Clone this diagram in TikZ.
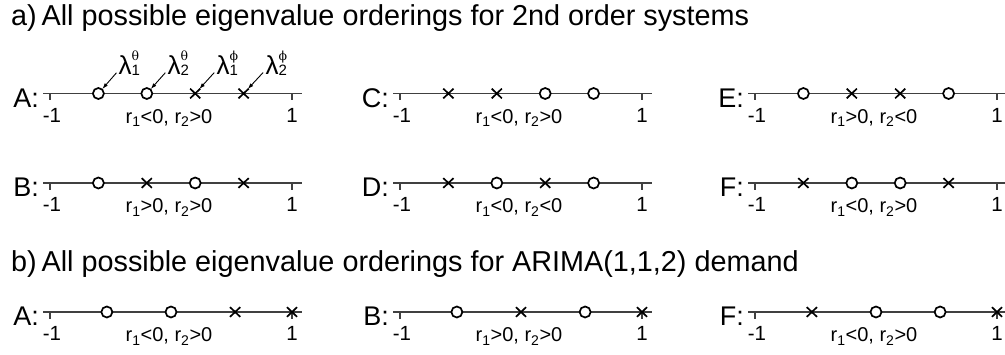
\documentclass[tikz,border=0pt]{standalone}
\usepackage{fontspec}
\setmainfont{Liberation Sans}
\newfontfamily\greeksup{DejaVu Serif}
\usetikzlibrary{arrows.meta,shapes.misc}
\tikzset{
  axis/.style={line width=1.1pt,draw=black!75},
  omark/.style={circle,draw=black,fill=white,line width=1.7pt,minimum size=11pt,inner sep=0pt},
  xmark/.style={cross out,draw=black,line width=1.7pt,minimum width=8.5pt,minimum height=8pt,inner sep=0pt},
  panellabel/.style={anchor=base east,inner sep=0pt,font=\fontsize{27}{30}\selectfont},
  ticklabel/.style={anchor=base,inner sep=0pt,font=\fontsize{20.5}{22}\selectfont},
  rlabel/.style={anchor=base,inner sep=0pt,font=\fontsize{20}{22}\selectfont},
  heading/.style={anchor=base west,inner sep=0pt,font=\fontsize{28.8}{32}\selectfont},
  lam/.style={inner sep=0pt,font=\fontsize{26}{28}\selectfont},
  lamarrow/.style={line width=0.9pt,-{Latex[length=6pt,width=4pt]},shorten <=13pt,shorten >=6pt}
}
\newcommand\lamtext[2]{λ\rlap{\raisebox{14pt}{\fontsize{12.5}{12}\selectfont\greeksup #2}}\rlap{\raisebox{-1pt}{\fontsize{15}{15}\selectfont #1}}}
\newcommand\eigpanel[6]{%
  \coordinate (#1-l) at (#2-7,#3);
  \coordinate (#1-r) at (#2+252,#3);
  \draw[axis] (#1-l) -- (#1-r);
  \coordinate (#1-t0) at (#2,#3);
  \coordinate (#1-t1) at (#2+242,#3);
  \coordinate (#1-t0e) at (#2,#3+7);
  \coordinate (#1-t1e) at (#2+242,#3+7);
  \draw[axis] (#1-t0) -- (#1-t0e);
  \draw[axis] (#1-t1) -- (#1-t1e);
  \node[panellabel] (#1-name) at (#2-11,#3+14) {#4:};
  \node[ticklabel] (#1-m1) at (#2+2,#3+29) {-1};
  \node[ticklabel] (#1-p1) at (#2+242,#3+29) {1};
  \node[rlabel] (#1-rl) at (#2+119,#3+30) {#5};
  \foreach \k/\t/\v in {#6} { \node[\t] (#1-\k) at ({#2+121+121*\v},#3) {}; }
}
\begin{document}
\begin{tikzpicture}[x=1pt,y=-1pt]
\useasboundingbox (0,0) rectangle (1005,355);
\node[heading] (ha) at (11,26) {a)\,All possible eigenvalue orderings for 2nd order systems};
\node[heading] (hb) at (11,272) {b)\,All possible eigenvalue orderings for ARIMA(1,1,2) demand};
% row 1
\eigpanel{aA}{50}{93.5}{A}{r\textsubscript{1}<0, r\textsubscript{2}>0}{1/omark/-0.6,2/omark/-0.2,3/xmark/0.2,4/xmark/0.6}
\eigpanel{aC}{400}{93.5}{C}{r\textsubscript{1}<0, r\textsubscript{2}>0}{1/xmark/-0.6,2/xmark/-0.2,3/omark/0.2,4/omark/0.6}
\eigpanel{aE}{755}{93.5}{E}{r\textsubscript{1}>0, r\textsubscript{2}<0}{1/omark/-0.6,2/xmark/-0.2,3/xmark/0.2,4/omark/0.6}
% row 2
\eigpanel{aB}{50}{183}{B}{r\textsubscript{1}>0, r\textsubscript{2}>0}{1/omark/-0.6,2/xmark/-0.2,3/omark/0.2,4/xmark/0.6}
\eigpanel{aD}{400}{183}{D}{r\textsubscript{1}<0, r\textsubscript{2}<0}{1/xmark/-0.6,2/omark/-0.2,3/xmark/0.2,4/omark/0.6}
\eigpanel{aF}{755}{183}{F}{r\textsubscript{1}<0, r\textsubscript{2}>0}{1/xmark/-0.6,2/omark/-0.2,3/omark/0.2,4/xmark/0.6}
% row 3
\eigpanel{bA}{50}{312}{A}{r\textsubscript{1}<0, r\textsubscript{2}>0}{1/omark/-0.53,2/omark/0,3/xmark/0.53,4/xmark/1}
\eigpanel{bB}{400}{312}{B}{r\textsubscript{1}>0, r\textsubscript{2}>0}{1/omark/-0.53,2/xmark/0,3/omark/0.53,4/xmark/1}
\eigpanel{bF}{755}{312}{F}{r\textsubscript{1}<0, r\textsubscript{2}>0}{1/xmark/-0.53,2/omark/0,3/omark/0.53,4/xmark/1}
% lambda labels
\node[lam] (l1) at (125,63) {\lamtext{1}{θ}};
\node[lam] (l2) at (174,63) {\lamtext{2}{θ}};
\node[lam] (l3) at (223,63) {\lamtext{1}{ϕ}};
\node[lam] (l4) at (272,63) {\lamtext{2}{ϕ}};
\draw[lamarrow] (l1.center) -- (aA-1.center);
\draw[lamarrow] (l2.center) -- (aA-2.center);
\draw[lamarrow] (l3.center) -- (aA-3.center);
\draw[lamarrow] (l4.center) -- (aA-4.center);
\end{tikzpicture}
\end{document}
